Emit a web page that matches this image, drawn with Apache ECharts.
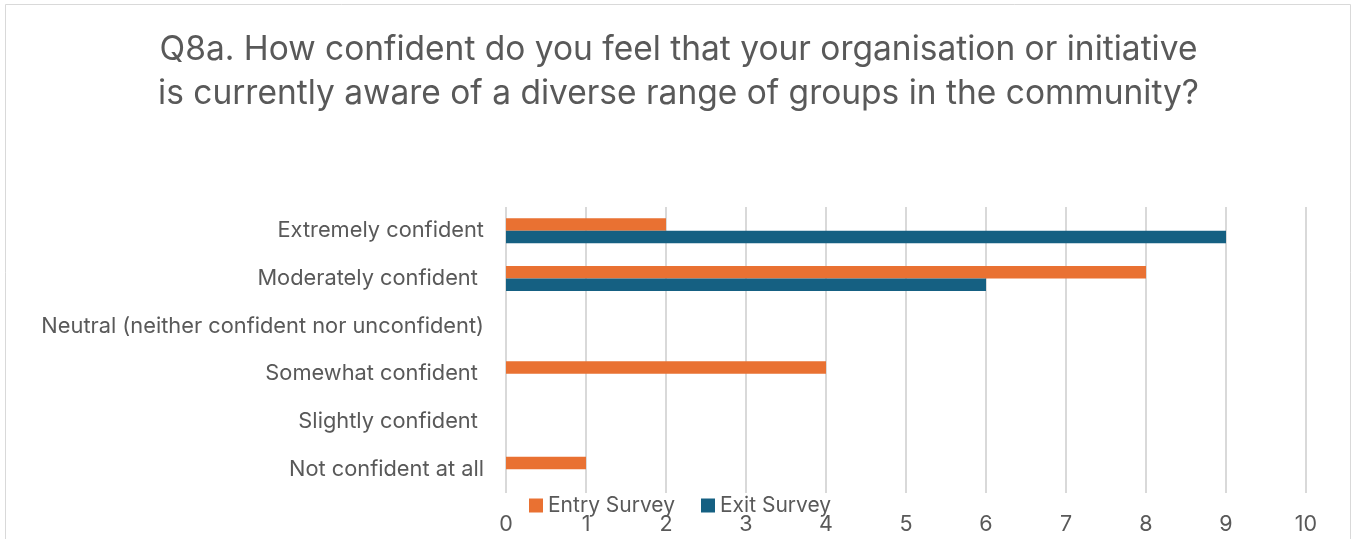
<!DOCTYPE html>
<html>
<head>
<meta charset="utf-8">
<script src="https://cdn.jsdelivr.net/npm/echarts@6/dist/echarts.min.js"></script>
<style>
  html, body { margin: 0; padding: 0; background: #fff; }
  #chart { width: 1357px; height: 539px; }
</style>
</head>
<body>
<div id="chart"></div>
<script>
// Response categories, listed top to bottom
const categories = [
  'Extremely confident',
  'Moderately confident ',
  'Neutral (neither confident nor unconfident)',
  'Somewhat confident ',
  'Slightly confident ',
  'Not confident at all'
];
// Number of responses per survey
const entrySurvey = [2, 8, 0, 4, 0, 1];
const exitSurvey = [9, 6, 0, 0, 0, 0];
const seriesNames = ['Entry Survey', 'Exit Survey'];
const titleText = 'Q8a. How confident do you feel that your organisation or initiative\nis currently aware of a diverse range of groups in the community?';

const FONT = 'Inter';
const TEXT = '#595959';

const chart = echarts.init(document.getElementById('chart'), null, { renderer: 'canvas' });
chart.setOption({
  backgroundColor: '#ffffff',
  animation: false,
  textStyle: { fontFamily: FONT },
  graphic: [{
    type: 'rect',
    shape: { x: 5.5, y: 4.5, width: 1345, height: 560 },
    style: { fill: 'none', stroke: '#D9D9D9', lineWidth: 1 },
    silent: true
  }],
  title: {
    text: titleText,
    left: 'center',
    top: 23,
    textStyle: {
      fontFamily: FONT,
      fontSize: 33.5,
      fontWeight: 'normal',
      color: TEXT,
      lineHeight: 44
    }
  },
  legend: {
    data: seriesNames,
    left: 524,
    top: 490,
    icon: 'rect',
    itemWidth: 14,
    itemHeight: 14,
    itemGap: 26,
    textStyle: { fontFamily: FONT, fontSize: 21, color: TEXT }
  },
  grid: { left: 506, right: 51, top: 207, bottom: 46, containLabel: false },
  xAxis: {
    type: 'value',
    min: 0,
    max: 10,
    interval: 1,
    axisLine: { show: false },
    axisTick: { show: false },
    axisLabel: { fontFamily: FONT, fontSize: 21.5, color: TEXT, margin: 21 },
    splitLine: { show: true, lineStyle: { color: '#D9D9D9', width: 2 } }
  },
  yAxis: {
    type: 'category',
    data: categories,
    inverse: true,
    axisLine: { show: false },
    axisTick: { show: false },
    axisLabel: { fontFamily: FONT, fontSize: 21.8, color: TEXT, margin: 22 },
    splitLine: { show: false }
  },
  series: [
    {
      name: seriesNames[0],
      type: 'bar',
      data: entrySurvey,
      barWidth: 12.5,
      barGap: '0%',
      itemStyle: { color: '#E97132' }
    },
    {
      name: seriesNames[1],
      type: 'bar',
      data: exitSurvey,
      barWidth: 12.5,
      barGap: '0%',
      itemStyle: { color: '#156082' }
    }
  ]
});
</script>
</body>
</html>
